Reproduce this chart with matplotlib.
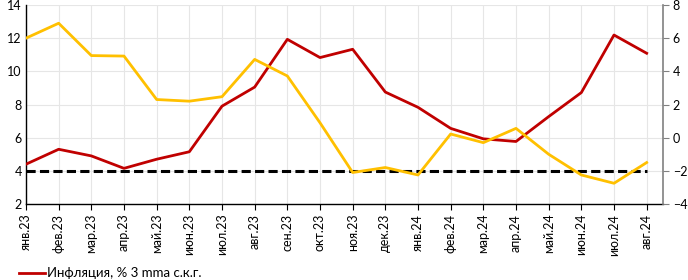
import matplotlib
matplotlib.use("Agg")
import matplotlib.pyplot as plt
import numpy as np

plt.rcParams['font.family'] = ['Lato', 'DejaVu Sans']

months = ['янв.23', 'фев.23', 'мар.23', 'апр.23', 'май.23', 'июн.23', 'июл.23',
          'авг.23', 'сен.23', 'окт.23', 'ноя.23', 'дек.23', 'янв.24', 'фев.24',
          'мар.24', 'апр.24', 'май.24', 'июн.24', 'июл.24', 'авг.24']

# инфляция, % 3 mma с.к.г. (левая ось)
inflation = [4.4, 5.3, 4.9, 4.15, 4.7, 5.15, 7.9, 9.05, 11.93, 10.83, 11.33, 8.75,
             7.83, 6.56, 5.93, 5.77, 7.27, 8.72, 12.19, 11.09]
# второй ряд (правая ось)
second = [6.0, 6.9, 4.95, 4.92, 2.3, 2.2, 2.47, 4.72, 3.72, 0.9, -2.1, -1.8,
          -2.25, 0.22, -0.3, 0.56, -1.0, -2.25, -2.75, -1.5]
target = 4.0

x = np.arange(len(months))

fig = plt.figure(figsize=(6.88, 2.80), dpi=100)
ax = fig.add_axes([26/688, 1-204/280, (663-26)/688, (204-5)/280])
ax2 = ax.twinx()

ax.plot(x, inflation, color='#C00000', lw=2.0, zorder=3, label='Инфляция, % 3 mma с.к.г.')
ax.plot(x, [target]*len(x), color='black', lw=2.2, ls=(0, (3, 1.4)), zorder=2)
ax2.plot(x, second, color='#FFC000', lw=2.0, zorder=3)

ax.set_xlim(0, 19.5)
ax.set_ylim(2, 14)
ax2.set_ylim(-4, 8)
ax.set_yticks(np.arange(2, 15, 2))
ax2.set_yticks(np.arange(-4, 9, 2))
ax.set_xticks(x)
ax.set_xticklabels(months, rotation=90, fontsize=9)
ax.tick_params(axis='y', labelsize=9, length=0, pad=3)
ax2.tick_params(axis='y', labelsize=9, length=4, color='#808080', pad=3, direction='out')
ax.tick_params(axis='x', length=4, pad=3, color='black')

ax.grid(True, color='#e6e6e6', lw=0.8)
ax.set_axisbelow(True)
for s in ['top', 'right']:
    ax.spines[s].set_visible(False)
for s in ['top', 'left', 'bottom']:
    ax2.spines[s].set_visible(False)
ax2.spines['right'].set_color('#808080')
ax2.spines['right'].set_linewidth(1.2)
ax.spines['left'].set_linewidth(1.0)
ax.spines['bottom'].set_linewidth(1.0)

ax.legend(loc='lower left', bbox_to_anchor=(-0.02, -0.405), frameon=False,
          fontsize=9.5, handlelength=2.0, handletextpad=0.15, borderaxespad=0)

fig.savefig('out.png', dpi=100)
